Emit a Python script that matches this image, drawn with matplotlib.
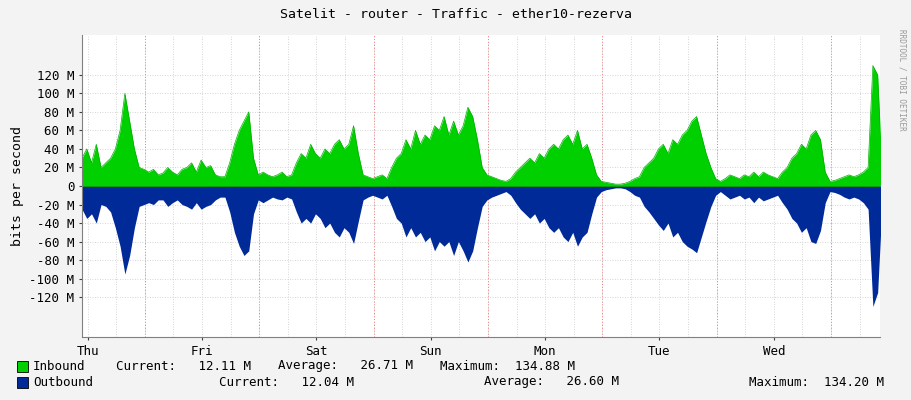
import numpy as np
import matplotlib
matplotlib.use("Agg")
import matplotlib.pyplot as plt

inbound = [30,40,25,45,20,25,30,40,60,100,70,40,20,18,15,18,12,14,20,15,12,18,20,25,
           15,28,20,22,12,10,10,25,45,60,70,80,30,12,15,12,10,12,15,10,12,25,35,30,
           45,35,30,40,35,45,50,40,45,65,35,12,10,8,10,12,8,20,30,35,50,40,60,45,
           55,50,65,60,75,55,70,55,65,85,75,50,20,12,10,8,6,5,8,15,20,25,30,25,
           35,30,40,45,40,50,55,45,60,40,45,30,12,5,4,3,2,2,3,5,8,10,20,25,
           30,40,45,35,50,45,55,60,70,75,55,35,20,8,5,8,12,10,8,12,10,15,10,15,
           12,10,8,15,20,30,35,45,40,55,60,50,15,5,6,8,10,12,10,12,15,20,130,120,10]
outbound = [25,35,30,40,20,22,28,45,65,95,75,45,22,20,18,20,15,15,22,18,15,20,22,25,
            18,25,22,20,15,12,12,28,50,65,75,70,30,15,18,15,12,14,15,12,14,28,40,35,
            40,30,35,45,40,50,55,45,50,62,38,15,12,10,12,14,10,22,35,40,55,45,55,50,
            60,55,70,60,65,60,75,60,70,82,70,45,22,15,12,10,8,6,10,18,25,30,35,30,
            40,35,45,50,45,55,60,50,65,55,50,30,12,6,4,3,2,2,3,6,10,12,22,28,
            35,42,48,40,55,50,60,65,68,72,55,38,22,10,6,10,14,12,10,14,12,18,12,16,
            14,12,10,18,25,35,40,50,45,60,62,48,18,6,7,9,12,14,12,14,18,25,130,115,12]
days = ["Thu","Fri","Sat","Sun","Mon","Tue","Wed"]
day_hours = [1.2, 25.2, 49.2, 73.2, 97.2, 121.2, 145.2]

hours = np.arange(len(inbound))
inb = np.array(inbound)
outb = -np.array(outbound)

fig = plt.figure(figsize=(9.11, 4.0), dpi=100, facecolor="#F3F3F3")
ax = fig.add_axes([0.090, 0.1575, 0.876, 0.755])
ax.set_facecolor("white")
ax.fill_between(hours, 0, inb, color="#00CF00", linewidth=0)
ax.fill_between(hours, 0, outb, color="#002A97", linewidth=0)
ax.plot(hours, inb, color="#00B000", lw=0.5)
ax.axhline(0, color="#00A000", lw=0.6)
ax.set_xlim(0, 167.5)
ax.set_ylim(-163, 163)

yt = np.arange(-120, 121, 20)
ax.set_yticks(yt)
ax.set_yticklabels(["0" if v == 0 else f"{v} M" for v in yt], fontsize=9, family="DejaVu Sans Mono")
ax.set_xticks(day_hours)
ax.set_xticklabels(days, fontsize=9, family="DejaVu Sans Mono", ha="center")
for h in np.arange(day_hours[0] - 24, 168, 6):
    if h > 0:
        ax.axvline(h, color="#C8C8C8", lw=0.6, ls=(0, (1, 2)), zorder=0)
for h in np.arange(day_hours[0] + 12, 168, 24):
    ax.axvline(h, color="#F08080", lw=0.7, ls=(0, (1, 2)), zorder=0)
for v in yt:
    ax.axhline(v, color="#C8C8C8", lw=0.6, ls=(0, (1, 2)), zorder=0)
for s in ["top", "right"]:
    ax.spines[s].set_visible(False)
ax.spines["left"].set_color("#808080")
ax.spines["bottom"].set_color("#808080")
ax.tick_params(length=2, colors="#404040", labelcolor="black")
ax.set_ylabel("bits per second", fontsize=9.5, family="DejaVu Sans Mono")

fig.text(0.5, 0.965, "Satelit - router - Traffic - ether10-rezerva", ha="center", va="center",
         fontsize=9.5, family="DejaVu Sans Mono")
fig.text(0.99, 0.8, "RRDTOOL / TOBI OETIKER", rotation=270, fontsize=5.5, color="#999999",
         ha="center", va="center", family="DejaVu Sans Mono")

fig.patches.append(plt.Rectangle((0.019, 0.071), 0.012, 0.027, transform=fig.transFigure,
                                 facecolor="#00CF00", edgecolor="black", lw=0.6))
fig.patches.append(plt.Rectangle((0.019, 0.031), 0.012, 0.027, transform=fig.transFigure,
                                 facecolor="#002A97", edgecolor="black", lw=0.6))
kw = dict(fontsize=9, family="DejaVu Sans Mono", va="center")
W = 911
fig.text(33 / W, 0.085, "Inbound", **kw)
fig.text(116 / W, 0.085, "Current:   12.11 M", **kw)
fig.text(278 / W, 0.085, "Average:   26.71 M", **kw)
fig.text(440 / W, 0.085, "Maximum:  134.88 M", **kw)
fig.text(33 / W, 0.045, "Outbound", **kw)
fig.text(219 / W, 0.045, "Current:   12.04 M", **kw)
fig.text(484 / W, 0.045, "Average:   26.60 M", **kw)
fig.text(749 / W, 0.045, "Maximum:  134.20 M", **kw)

fig.savefig("out.png", dpi=100, facecolor=fig.get_facecolor())
